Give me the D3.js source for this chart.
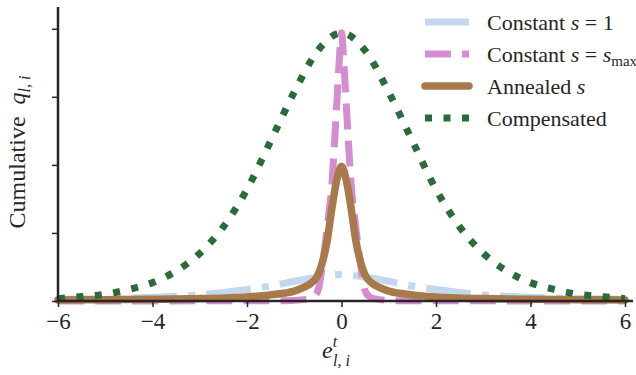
<!DOCTYPE html>
<html>
<head>
<meta charset="utf-8">
<script src="https://cdn.jsdelivr.net/npm/d3@7"></script>
<style>
  body { margin: 0; background: #fff; }
  svg text { font-family: "Liberation Serif", "Times New Roman", Times, serif; fill: #262626; }
</style>
</head>
<body>
<svg id="chart" width="636" height="375"></svg>
<script>
// values
var xTicks = [-6, -4, -2, 0, 2, 4, 6];
var yTicks = [0, 1, 2, 3, 4];

var seriesNames = ["Constant s=1", "Constant s=smax", "Annealed s", "Compensated"];

var xConst1 = [-6, -5, -4, -3, -2, -1.5, -1, -0.5, 0, 0.5, 1, 1.5, 2, 3, 4, 5, 6];
var yConst1 = [0.025, 0.035, 0.055, 0.09, 0.17, 0.22, 0.29, 0.35, 0.39, 0.35, 0.29, 0.22, 0.17, 0.09, 0.055, 0.035, 0.025];

var xConstMax = [-6, -1.2, -0.8, -0.6, -0.5, -0.4, -0.3, -0.2, -0.15, -0.1, -0.05, 0, 0.05, 0.1, 0.15, 0.2, 0.3, 0.4, 0.5, 0.6, 0.8, 1.2, 6];
var yConstMax = [0, 0.005, 0.02, 0.06, 0.15, 0.55, 1.1, 1.75, 2.3, 2.9, 3.5, 3.94, 3.5, 2.9, 2.3, 1.75, 1.1, 0.55, 0.15, 0.06, 0.02, 0.005, 0];

var xAnneal = [-6, -5, -4, -3, -2, -1.5, -1, -0.8, -0.65, -0.5, -0.4, -0.3, -0.2, -0.1, 0, 0.1, 0.2, 0.3, 0.4, 0.5, 0.65, 0.8, 1, 1.5, 2, 3, 4, 5, 6];
var yAnneal = [0.015, 0.02, 0.025, 0.035, 0.06, 0.09, 0.145, 0.2, 0.26, 0.38, 0.58, 0.9, 1.38, 1.78, 1.98, 1.78, 1.38, 0.9, 0.58, 0.38, 0.26, 0.2, 0.145, 0.09, 0.06, 0.035, 0.025, 0.02, 0.015];

var xComp = [-6, -5.5, -5, -4.5, -4, -3.5, -3, -2.5, -2, -1.5, -1, -0.5, 0, 0.5, 1, 1.5, 2, 2.5, 3, 3.5, 4, 4.5, 5, 5.5, 6];
var yComp = [0.035, 0.065, 0.1, 0.17, 0.27, 0.44, 0.7, 1.09, 1.64, 2.35, 3.07, 3.68, 3.94, 3.68, 3.07, 2.35, 1.64, 1.09, 0.7, 0.44, 0.27, 0.17, 0.1, 0.065, 0.035];

var serif = '"Liberation Serif", "Times New Roman", Times, serif';

var svg = d3.select("#chart");

var x = d3.scaleLinear().domain([-6, 6]).range([58, 625]);
var y = d3.scaleLinear().domain([0, 4.32]).range([301, 7]);

var lineGen = d3.line()
    .x(function(d) { return x(d[0]); })
    .y(function(d) { return y(d[1]); })
    .curve(d3.curveMonotoneX);

var series = [
    { name: seriesNames[0], xs: xConst1,   ys: yConst1,   color: "#c3d7ef", width: 7,   dash: "44.8,11.2,7,11.2" },
    { name: seriesNames[1], xs: xConstMax, ys: yConstMax, color: "#d68dcf", width: 7,   dash: "25.9,11.2" },
    { name: seriesNames[2], xs: xAnneal,   ys: yAnneal,   color: "#a8794a", width: 7.5, dash: null },
    { name: seriesNames[3], xs: xComp,     ys: yComp,     color: "#2a6b3b", width: 7,   dash: "7,11.5" }
];

// curves
svg.selectAll(".curve")
    .data(series)
    .enter().append("path")
    .attr("class", "curve")
    .attr("d", function(s) { return lineGen(d3.zip(s.xs, s.ys)); })
    .attr("fill", "none")
    .attr("stroke", function(s) { return s.color; })
    .attr("stroke-width", function(s) { return s.width; })
    .attr("stroke-dasharray", function(s) { return s.dash; })
    .attr("stroke-linecap", function(s) { return s.dash ? "butt" : "round"; })
    .attr("stroke-linejoin", "round");

// axes
var xAxis = svg.append("g")
    .attr("transform", "translate(0,301)")
    .call(d3.axisBottom(x).tickValues(xTicks).tickSize(6).tickPadding(6)
        .tickFormat(function(d) { return d < 0 ? "\u2212" + Math.abs(d) : d; }))
    .attr("font-family", null)
    .attr("font-size", null);
xAxis.select(".domain").remove();
xAxis.selectAll("line").attr("stroke", "#262626").attr("stroke-width", 1.5);
xAxis.selectAll("text")
    .style("font-family", serif)
    .style("font-size", "23px")
    .attr("fill", "#262626");

var yAxis = svg.append("g")
    .attr("transform", "translate(58,0)")
    .call(d3.axisLeft(y).tickValues(yTicks).tickSize(6).tickFormat(""));
yAxis.select(".domain").remove();
yAxis.selectAll("line").attr("stroke", "#262626").attr("stroke-width", 1.5);

// spines
svg.append("line")
    .attr("x1", 58).attr("x2", 633).attr("y1", 301).attr("y2", 301)
    .attr("stroke", "#262626").attr("stroke-width", 2.5);
svg.append("line")
    .attr("x1", 58).attr("x2", 58).attr("y1", 7).attr("y2", 302)
    .attr("stroke", "#262626").attr("stroke-width", 2.5);

// axis labels
var xl = svg.append("text")
    .attr("x", 336).attr("y", 358)
    .attr("text-anchor", "middle")
    .style("font-family", serif)
    .style("font-size", "24px");
xl.append("tspan").attr("font-style", "italic").text("e");
xl.append("tspan").attr("font-style", "italic").style("font-size", "16px").attr("dy", -11).text("t");
xl.append("tspan").attr("font-style", "italic").style("font-size", "16px").attr("dx", -4).attr("dy", 19).text("l, i");

var yl = svg.append("text")
    .attr("transform", "translate(25,152) rotate(-90)")
    .attr("text-anchor", "middle")
    .style("font-family", serif)
    .style("font-size", "24px");
yl.append("tspan").text("Cumulative\u00a0\u00a0");
yl.append("tspan").attr("font-style", "italic").text("q");
yl.append("tspan").attr("font-style", "italic").style("font-size", "16px").attr("dy", 5).text("l, i");

// legend
var legend = svg.selectAll(".legendItem")
    .data(series)
    .enter().append("g")
    .attr("class", "legendItem")
    .attr("transform", function(d, i) { return "translate(0," + (22 + i * 32) + ")"; });

legend.append("line")
    .attr("x1", 425).attr("x2", 469)
    .attr("stroke", function(s) { return s.color; })
    .attr("stroke-width", function(s) { return s.width; })
    .attr("stroke-dasharray", function(s) { return s.dash; })
    .attr("stroke-linecap", function(s) { return s.dash ? "butt" : "round"; });

var labels = legend.append("text")
    .attr("x", 487).attr("y", 7.5)
    .style("font-family", serif)
    .style("font-size", "22px");

labels.each(function(s, i) {
    var t = d3.select(this);
    if (i === 0) {
        t.append("tspan").text("Constant ");
        t.append("tspan").attr("font-style", "italic").text("s");
        t.append("tspan").text(" = 1");
    } else if (i === 1) {
        t.append("tspan").text("Constant ");
        t.append("tspan").attr("font-style", "italic").text("s");
        t.append("tspan").text(" = ");
        t.append("tspan").attr("font-style", "italic").text("s");
        t.append("tspan").style("font-size", "15px").attr("dy", 4).text("max");
    } else if (i === 2) {
        t.append("tspan").text("Annealed ");
        t.append("tspan").attr("font-style", "italic").text("s");
    } else {
        t.text("Compensated");
    }
});
</script>
</body>
</html>
